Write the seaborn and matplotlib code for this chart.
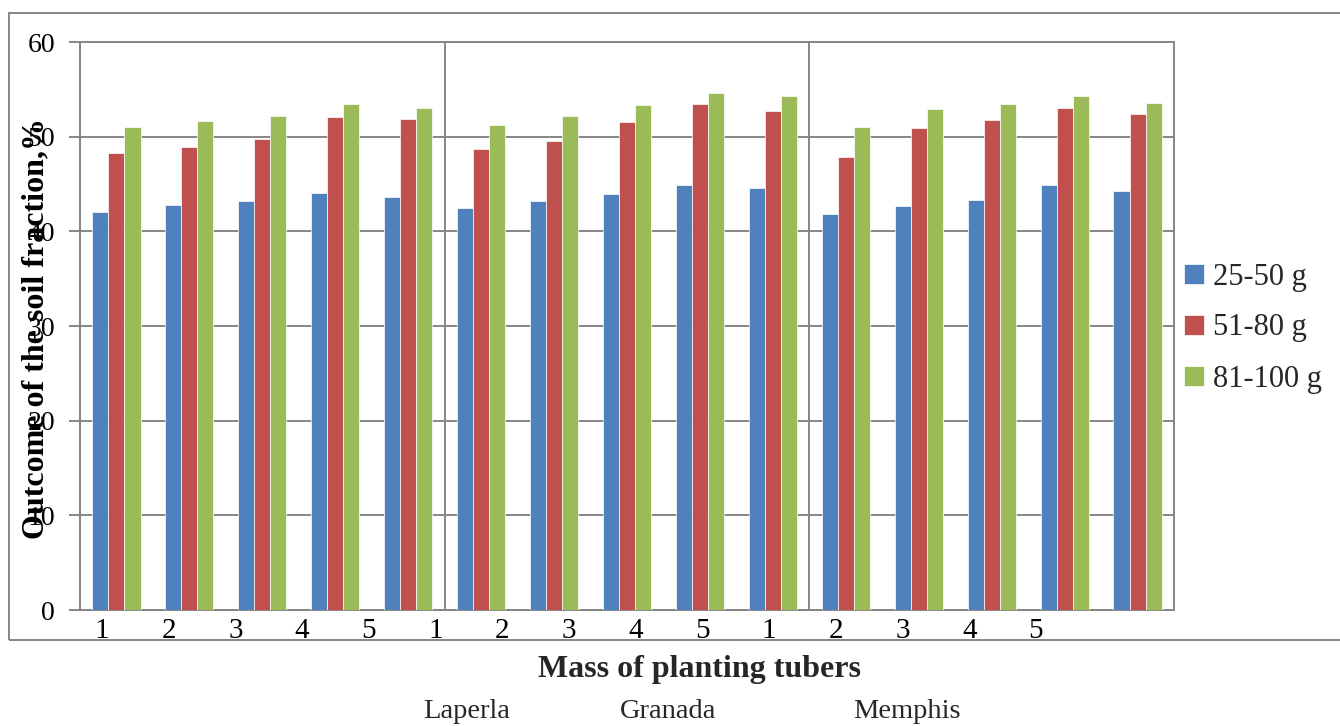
import numpy as np
import pandas as pd
import matplotlib
matplotlib.use("Agg")
import matplotlib.pyplot as plt
from matplotlib.patches import Rectangle
import seaborn as sns

# ---- data ----
groups = [str(i) for i in range(1, 16)]
tick_labels = ["1", "2", "3", "4", "5"] * 3
series = ["25-50 g", "51-80 g", "81-100 g"]
s_25_50 = [42.0, 42.8, 43.2, 44.1, 43.6, 42.5, 43.2, 43.9, 44.9, 44.6, 41.8, 42.7, 43.3, 44.9, 44.3]
s_51_80 = [48.3, 48.9, 49.75, 52.1, 51.9, 48.7, 49.5, 51.6, 53.5, 52.7, 47.9, 50.9, 51.8, 53.0, 52.4]
s_81_100 = [51.05, 51.7, 52.2, 53.5, 53.0, 51.2, 52.2, 53.3, 54.6, 54.3, 51.05, 52.9, 53.5, 54.3, 53.6]
varieties = ["Laperla", "Granada", "Memphis"]
colors = ["#4F81BD", "#C0504D", "#9BBB59"]

df = pd.DataFrame({
    "group": groups * 3,
    "series": np.repeat(series, len(groups)),
    "value": s_25_50 + s_51_80 + s_81_100,
})

sns.set_theme(style="white")
plt.rcParams["font.family"] = ["Liberation Serif", "DejaVu Serif"]

W, H = 1340, 726
fig = plt.figure(figsize=(W / 100, H / 100), dpi=100)
ax = fig.add_axes([80 / W, 1 - 610 / H, (1174 - 80) / W, (610 - 42) / H])

sns.barplot(data=df, x="group", y="value", hue="series", order=groups,
            hue_order=series, palette=colors, saturation=1, width=0.66, gap=0,
            edgecolor="white", linewidth=0.5, errorbar=None, ax=ax, zorder=3)

grid_c = "#868686"
ax.set_ylim(0, 60)
ax.set_xlim(-0.5, len(groups) - 0.5)
ax.set_yticks(range(0, 61, 10))
ax.yaxis.grid(True, color=grid_c, linewidth=1.4, zorder=0)
ax.set_axisbelow(True)
for sp in ax.spines.values():
    sp.set_visible(True)
    sp.set_color(grid_c)
    sp.set_linewidth(1.4)
ax.axvline(4.5, color=grid_c, linewidth=1.4, zorder=1)
ax.axvline(9.5, color=grid_c, linewidth=1.4, zorder=1)

ax.tick_params(axis="y", which="major", left=True, length=8, width=1.4,
               color=grid_c, pad=10, labelsize=20, labelcolor="black")
ax.set_xticks([])
ax.set_xlabel("")
ax.set_ylabel("Outcome of the soil fraction,%", fontsize=23, fontweight="bold",
              color="black")
ax.yaxis.set_label_coords(-0.027, 0.495)

# misaligned category labels on a twin axis
ax2 = ax.twiny()
ax2.set_xlim(-0.33, 16.07)
ax2.set_xticks(range(len(tick_labels)))
ax2.set_xticklabels(tick_labels, fontsize=21)
ax2.xaxis.set_ticks_position("bottom")
ax2.xaxis.set_label_position("bottom")
ax2.tick_params(axis="x", length=0, pad=5.5, labelcolor="black")
for sp in ax2.spines.values():
    sp.set_visible(False)

# legend
handles, labels = ax.get_legend_handles_labels()
ax.legend(handles, labels, loc="center left", bbox_to_anchor=(1169 / W, 1 - 328 / H),
          bbox_transform=fig.transFigure, frameon=False, fontsize=22,
          handlelength=0.65, handleheight=0.65, handletextpad=0.3,
          labelspacing=0.72, borderpad=0)

# axis titles
fig.text(700 / W, 1 - 670 / H, "Mass of planting tubers", ha="center", va="center",
         fontsize=23, fontweight="bold")
for name, xp in zip(varieties, [467, 668, 907]):
    fig.text(xp / W, 1 - 712 / H, name, ha="center", va="center", fontsize=20.5)

# outer chart border
fig.add_artist(Rectangle((9 / W, 1 - 640 / H), (1360 - 9) / W, (640 - 13) / H,
                         transform=fig.transFigure, fill=False,
                         edgecolor=grid_c, linewidth=1.4))

fig.savefig("out.png", dpi=100)
